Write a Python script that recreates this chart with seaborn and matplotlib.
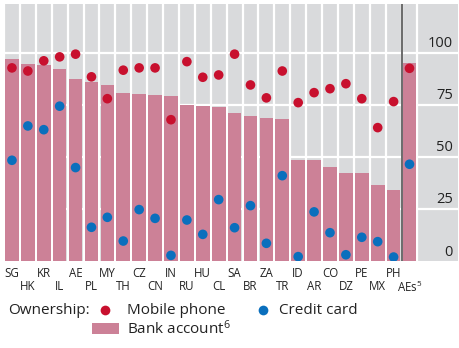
import numpy as np
import pandas as pd
import matplotlib
matplotlib.use("Agg")
import matplotlib.pyplot as plt
import matplotlib.transforms as mtransforms
from matplotlib.patches import Rectangle
from matplotlib.lines import Line2D
import seaborn as sns

# Country codes (advanced-economy average last)
codes = ["SG", "HK", "KR", "IL", "AE", "PL", "MY", "TH", "CZ", "CN", "IN", "RU", "HU",
         "CL", "SA", "BR", "ZA", "TR", "ID", "AR", "CO", "DZ", "PE", "MX", "PH", "AEs"]

# Share of adults owning each item, in per cent
bank_account = [97.1, 94.7, 94.4, 92.5, 87.5, 86.1, 84.6, 80.9, 80.3, 79.8, 79.3, 75.0, 74.5,
                74.2, 71.3, 69.7, 68.9, 68.4, 48.7, 48.6, 45.3, 42.5, 42.5, 36.7, 34.1, 95.3]
mobile_phone = [92.8, 91.3, 96.2, 98.1, 99.4, 88.5, 78.0, 91.7, 92.8, 92.8, 67.9, 95.8, 88.3,
                89.4, 99.4, 84.6, 78.4, 91.3, 76.1, 80.9, 82.8, 85.2, 78.0, 64.1, 76.6, 92.6]
credit_card = [48.4, 64.9, 63.1, 74.4, 44.9, 16.2, 21.0, 9.6, 24.7, 20.5, 2.7, 19.7, 12.8,
               29.5, 16.0, 26.6, 8.5, 41.0, 2.1, 23.6, 13.6, 3.0, 11.4, 9.3, 1.9, 46.5]

y_ticks = [0, 25, 50, 75, 100]

BG = "#d9dadc"
BAR = "#cc8197"
RED = "#c8102e"
BLUE = "#0a6fbd"
TXT = "#222222"

sns.set_theme(style="white")
plt.rcParams["font.family"] = ["Open Sans", "DejaVu Sans"]
plt.rcParams["mathtext.fontset"] = "custom"
plt.rcParams["mathtext.rm"] = "Open Sans"
plt.rcParams["mathtext.it"] = "Open Sans"

df = pd.DataFrame({
    "pos": np.arange(len(codes)),
    "code": codes,
    "bank": bank_account,
    "mobile": mobile_phone,
    "credit": credit_card,
})

W, H = 460, 348
fig = plt.figure(figsize=(W / 100, H / 100), dpi=100)
ax = fig.add_axes([4 / W, 1 - 261 / H, 454 / W, 257 / H])
ax.set_facecolor(BG)
for s in ax.spines.values():
    s.set_visible(False)

# Grid: white lines between categories and at each value tick
for x in np.arange(-0.5, len(codes), 1.0):
    ax.axvline(x, color="white", lw=1.6, zorder=0)
for y in y_ticks[1:]:
    ax.axhline(y, color="white", lw=1.6, zorder=0)

sns.barplot(data=df, x="pos", y="bank", native_scale=True, width=0.86,
            color=BAR, saturation=1, edgecolor="none", ax=ax, zorder=1)
sns.scatterplot(data=df, x="pos", y="mobile", color=RED, s=48, edgecolor="none",
                ax=ax, zorder=3, legend=False)
sns.scatterplot(data=df, x="pos", y="credit", color=BLUE, s=48, edgecolor="none",
                ax=ax, zorder=3, legend=False)

# Separator before the advanced-economy average
ax.axvline(len(codes) - 1.5, color="#6a6a6a", lw=1.4, zorder=2)

ax.set_xlim(-0.5, 28.05)
ax.set_ylim(0, 123.5)
ax.set_xlabel("")
ax.set_ylabel("")

# Staggered category labels: even positions on the first row, odd on the second
names = [r"AEs$^{5}$" if c == "AEs" else c for c in codes]
pos = df["pos"].to_numpy()
ax.set_xticks(pos[0::2])
ax.set_xticklabels(names[0::2], fontsize=8.3, color=TXT)
ax.set_xticks(pos[1::2], minor=True)
ax.set_xticklabels(names[1::2], minor=True, fontsize=8.3, color=TXT)
ax.tick_params(axis="x", which="major", length=0, pad=4)
ax.tick_params(axis="x", which="minor", length=0, pad=13.5)
ax.set_yticks([])

# Value labels sit just above their grid lines at the right edge
lab_tr = mtransforms.offset_copy(ax.get_yaxis_transform(), fig=fig, x=0, y=9, units="dots")
for v in y_ticks:
    ax.text(0.989, v, str(v), transform=lab_tr, ha="right", va="center",
            fontsize=10.5, color=TXT)

# Legend
def fx(px):
    return px / W

def fy(py):
    return 1 - py / H

fig.text(fx(8), fy(310), "Ownership:", fontsize=11, color=TXT, ha="left", va="center")
fig.add_artist(Line2D([fx(105)], [fy(310)], marker="o", markersize=7, color=RED,
                      markeredgewidth=0, transform=fig.transFigure))
fig.text(fx(127), fy(310), "Mobile phone", fontsize=11, color=TXT, ha="left", va="center")
fig.add_artist(Line2D([fx(263)], [fy(310)], marker="o", markersize=7, color=BLUE,
                      markeredgewidth=0, transform=fig.transFigure))
fig.text(fx(279), fy(310), "Credit card", fontsize=11, color=TXT, ha="left", va="center")
fig.add_artist(Rectangle((fx(92), fy(334)), fx(27), 11 / H, facecolor=BAR,
                         edgecolor="none", transform=fig.transFigure))
fig.text(fx(127), fy(329), r"Bank account$^{6}$", fontsize=11, color=TXT,
         ha="left", va="center")

fig.savefig("out.png", dpi=100, facecolor="white")
